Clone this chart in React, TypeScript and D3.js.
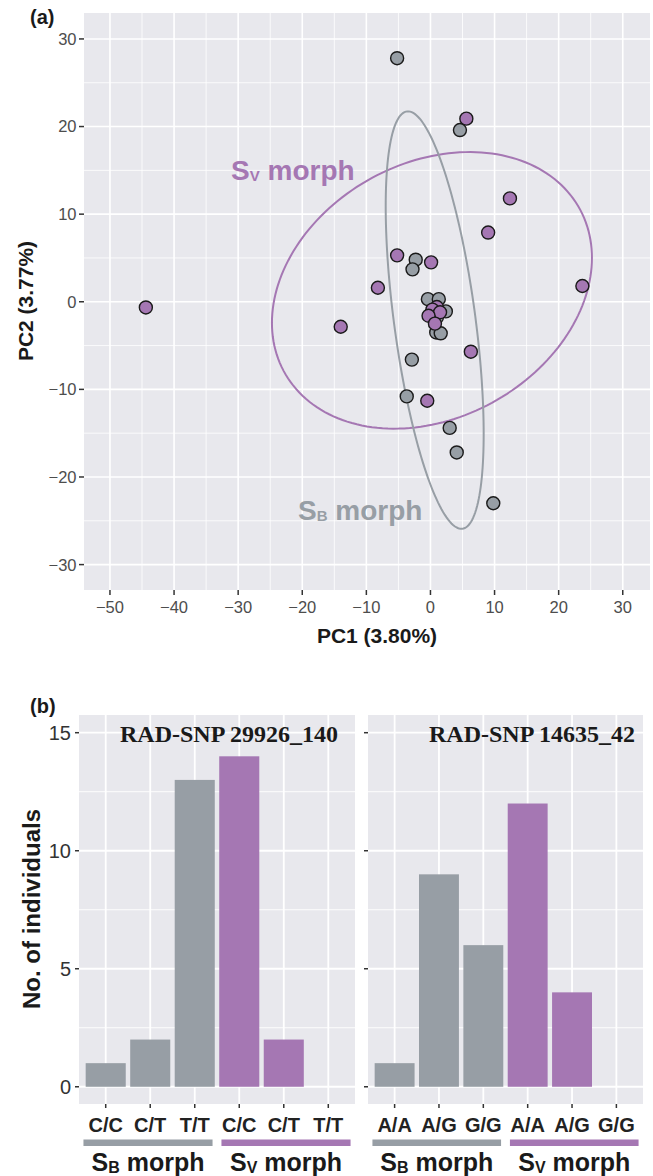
import React from "react";
import * as d3 from "d3";

// ---------- Panel (a) data: PCA scores ----------
const sbPC1 = [-5.2, 4.6, -2.3, -2.8, -0.4, 1.3, 2.4, 0.3, 1.0, 0.9, 1.6, -2.9, -3.7, 3.0, 4.1, 9.8];
const sbPC2 = [27.8, 19.6, 4.8, 3.7, 0.3, 0.3, -1.1, -1.2, -1.8, -3.5, -3.6, -6.6, -10.8, -14.4, -17.2, -23.0];
const svPC1 = [5.6, 12.4, 9.0, -5.2, 0.1, -8.2, 23.7, -44.4, -14.0, 1.0, 0.3, 1.5, -0.3, 0.7, 6.3, -0.5];
const svPC2 = [20.9, 11.8, 7.9, 5.3, 4.5, 1.6, 1.8, -0.65, -2.85, -0.6, -0.9, -1.2, -1.6, -2.5, -5.7, -11.3];

// ellipse parameters (data units): centre x, centre y, var x, var y, cov xy
const sbEllipse = [0.66, -2.09, 58.4, 567.6, -99.2];
const svEllipse = [0.23, 1.3, 623, 249.2, 92.6];

const xTicksA = [-50, -40, -30, -20, -10, 0, 10, 20, 30];
const yTicksA = [-30, -20, -10, 0, 10, 20, 30];
const xMinorA = [-45, -35, -25, -15, -5, 5, 15, 25];
const yMinorA = [-25, -15, -5, 5, 15, 25];

// ---------- Panel (b) data: genotype counts ----------
const snp1Title = "RAD-SNP 29926_140";
const snp2Title = "RAD-SNP 14635_42";
const snp1Genotypes = ["C/C", "C/T", "T/T", "C/C", "C/T", "T/T"];
const snp2Genotypes = ["A/A", "A/G", "G/G", "A/A", "A/G", "G/G"];
const snp1Counts = [1, 2, 13, 14, 2, 0];
const snp2Counts = [1, 9, 6, 12, 4, 0];
const barMorph = ["SB", "SB", "SB", "SV", "SV", "SV"];
const yTicksB = [0, 5, 10, 15];
const yMinorB = [2.5, 7.5, 12.5];

const GREY = "#979ea5";
const PURPLE = "#a577b3";
const BG = "#e8e8ed";
const FONT = "'Liberation Sans', Arial, Helvetica, sans-serif";
const minus = (v: number) => (v < 0 ? "\u2212" + Math.abs(v) : String(v));

function ellipsePath(p: number[], xs: any, ys: any) {
  const [cx, cy, sxx, syy, sxy] = p;
  const l11 = Math.sqrt(sxx);
  const l21 = sxy / l11;
  const l22 = Math.sqrt(syy - l21 * l21);
  const pts: [number, number][] = d3.range(0, 361, 2).map((deg) => {
    const t = (deg * Math.PI) / 180;
    return [xs(cx + l11 * Math.cos(t)), ys(cy + l21 * Math.cos(t) + l22 * Math.sin(t))];
  });
  return d3.line().curve(d3.curveLinearClosed)(pts) as string;
}

function BarPanel({ x0, x1, titleEnd, title, labels, counts, yScale, showYLabels }: any) {
  const xs = d3.scaleLinear().domain([0.4, 6.6]).range([x0, x1]);
  const top = 715, bottom = 1104;
  const pos = labels.map((_: string, i: number) => i + 1);
  return (
    <g>
      <rect x={x0} y={top} width={x1 - x0} height={bottom - top} fill={BG} />
      {yMinorB.map((v) => (
        <line key={"mn" + v} x1={x0} x2={x1} y1={yScale(v)} y2={yScale(v)} stroke="#fff" strokeWidth={0.9} />
      ))}
      {yTicksB.map((v) => (
        <line key={"mj" + v} x1={x0} x2={x1} y1={yScale(v)} y2={yScale(v)} stroke="#fff" strokeWidth={1.8} />
      ))}
      {pos.map((p: number) => (
        <line key={"vx" + p} x1={xs(p)} x2={xs(p)} y1={top} y2={bottom} stroke="#fff" strokeWidth={1.8} />
      ))}
      {counts.map((c: number, i: number) =>
        c > 0 ? (
          <rect key={"b" + i} x={xs(pos[i] - 0.45)} width={xs(pos[i] + 0.45) - xs(pos[i] - 0.45)}
            y={yScale(c)} height={yScale(0) - yScale(c)} fill={barMorph[i] === "SB" ? GREY : PURPLE} />
        ) : null
      )}
      <text x={titleEnd} y={741.5} textAnchor="end" fontFamily="'Liberation Serif', 'Times New Roman', serif"
        fontWeight="bold" fontSize={24} fill="#1a1a1a">{title}</text>
      {yTicksB.map((v) => (
        <g key={"yt" + v}>
          <line x1={x0 - 4} x2={x0} y1={yScale(v)} y2={yScale(v)} stroke="#333" strokeWidth={1.5} />
          {showYLabels && (
            <text x={x0 - 8} y={yScale(v)} dy="0.36em" textAnchor="end" fontSize={20} fill="#333" fontFamily={FONT}>{v}</text>
          )}
        </g>
      ))}
      {pos.map((p: number, i: number) => (
        <g key={"xt" + p}>
          <line x1={xs(p)} x2={xs(p)} y1={bottom} y2={bottom + 4} stroke="#333" strokeWidth={1.5} />
          <text x={xs(p)} y={1131.5} textAnchor="middle" fontSize={20} fontWeight="bold" fill="#222" fontFamily={FONT}>{labels[i]}</text>
        </g>
      ))}
      <rect x={xs(0.5)} width={xs(3.4) - xs(0.5)} y={1139.5} height={6.5} fill={GREY} />
      <rect x={xs(3.6)} width={xs(6.5) - xs(3.6)} y={1139.5} height={6.5} fill={PURPLE} />
      {[
        { c: (xs(0.5) + xs(3.4)) / 2, sub: "B" },
        { c: (xs(3.6) + xs(6.5)) / 2, sub: "V" },
      ].map((m) => (
        <text key={m.sub} x={m.c} y={1171} textAnchor="middle" fontFamily={FONT} fontWeight="bold" fontSize={25} fill="#1a1a1a">
          S<tspan fontSize={16} dy={2}>{m.sub}</tspan><tspan dy={-2}> morph</tspan>
        </text>
      ))}
    </g>
  );
}

export default function App() {
  const W = 653, H = 1176;
  const xA = d3.scaleLinear().domain([-54.05, 34.25]).range([84, 650]);
  const yA = d3.scaleLinear().domain([-32.9, 32.96]).range([590, 13]);
  const yB = d3.scaleLinear().domain([-0.73, 15.75]).range([1104, 715]);

  return (
    <svg width={W} height={H} style={{ position: "absolute", left: 0, top: 0, display: "block", background: "#fff" }}
      fontFamily={FONT}>
      {/* ---------- Panel (a) ---------- */}
      <text x={30} y={24} fontSize={20} fontWeight="bold" fill="#1a1a1a">(a)</text>
      <rect x={84} y={13} width={566} height={577} fill={BG} />
      {xMinorA.map((v) => (
        <line key={"xm" + v} x1={xA(v)} x2={xA(v)} y1={13} y2={590} stroke="#fff" strokeWidth={0.8} />
      ))}
      {yMinorA.map((v) => (
        <line key={"ym" + v} y1={yA(v)} y2={yA(v)} x1={84} x2={650} stroke="#fff" strokeWidth={0.8} />
      ))}
      {xTicksA.map((v) => (
        <line key={"xM" + v} x1={xA(v)} x2={xA(v)} y1={13} y2={590} stroke="#fff" strokeWidth={1.6} />
      ))}
      {yTicksA.map((v) => (
        <line key={"yM" + v} y1={yA(v)} y2={yA(v)} x1={84} x2={650} stroke="#fff" strokeWidth={1.6} />
      ))}
      <path d={ellipsePath(svEllipse, xA, yA)} fill="none" stroke={PURPLE} strokeWidth={2} />
      <path d={ellipsePath(sbEllipse, xA, yA)} fill="none" stroke={GREY} strokeWidth={2} />
      {sbPC1.map((v, i) => (
        <circle key={"sb" + i} cx={xA(v)} cy={yA(sbPC2[i])} r={6.5} fill={GREY} stroke="#1a1a1a" strokeWidth={1.4} />
      ))}
      {svPC1.map((v, i) => (
        <circle key={"sv" + i} cx={xA(v)} cy={yA(svPC2[i])} r={6.5} fill={PURPLE} stroke="#1a1a1a" strokeWidth={1.4} />
      ))}
      <text x={231} y={180} fontSize={28} fontWeight="bold" fill={PURPLE}>
        S<tspan fontSize={15} dy={1}>V</tspan><tspan dy={-1}> morph</tspan>
      </text>
      <text x={298} y={520} fontSize={28} fontWeight="bold" fill={GREY}>
        S<tspan fontSize={15} dy={1}>B</tspan><tspan dy={-1}> morph</tspan>
      </text>
      {yTicksA.map((v) => (
        <g key={"yt" + v}>
          <line x1={79} x2={84} y1={yA(v)} y2={yA(v)} stroke="#333" strokeWidth={1.5} />
          <text x={76.5} y={yA(v)} dy="0.36em" textAnchor="end" fontSize={16.5} fill="#4d4d4d">{minus(v)}</text>
        </g>
      ))}
      {xTicksA.map((v) => (
        <g key={"xt" + v}>
          <line x1={xA(v)} x2={xA(v)} y1={590} y2={595} stroke="#333" strokeWidth={1.5} />
          <text x={xA(v)} y={613} textAnchor="middle" fontSize={16.5} fill="#4d4d4d">{minus(v)}</text>
        </g>
      ))}
      <text x={377} y={643} textAnchor="middle" fontSize={21} fontWeight="bold" fill="#1a1a1a">PC1 (3.80%)</text>
      <text transform={`translate(33,301) rotate(-90)`} textAnchor="middle" fontSize={21} fontWeight="bold" fill="#1a1a1a">PC2 (3.77%)</text>

      {/* ---------- Panel (b) ---------- */}
      <text x={30} y={712.5} fontSize={20} fontWeight="bold" fill="#1a1a1a">(b)</text>
      <BarPanel x0={79} x1={355} titleEnd={338} title={snp1Title} labels={snp1Genotypes} counts={snp1Counts} yScale={yB} showYLabels={true} />
      <BarPanel x0={368} x1={643} titleEnd={635} title={snp2Title} labels={snp2Genotypes} counts={snp2Counts} yScale={yB} showYLabels={false} />
      <text transform={`translate(40,909) rotate(-90)`} textAnchor="middle" fontSize={24} fontWeight="bold" fill="#1a1a1a">No. of individuals</text>
    </svg>
  );
}
